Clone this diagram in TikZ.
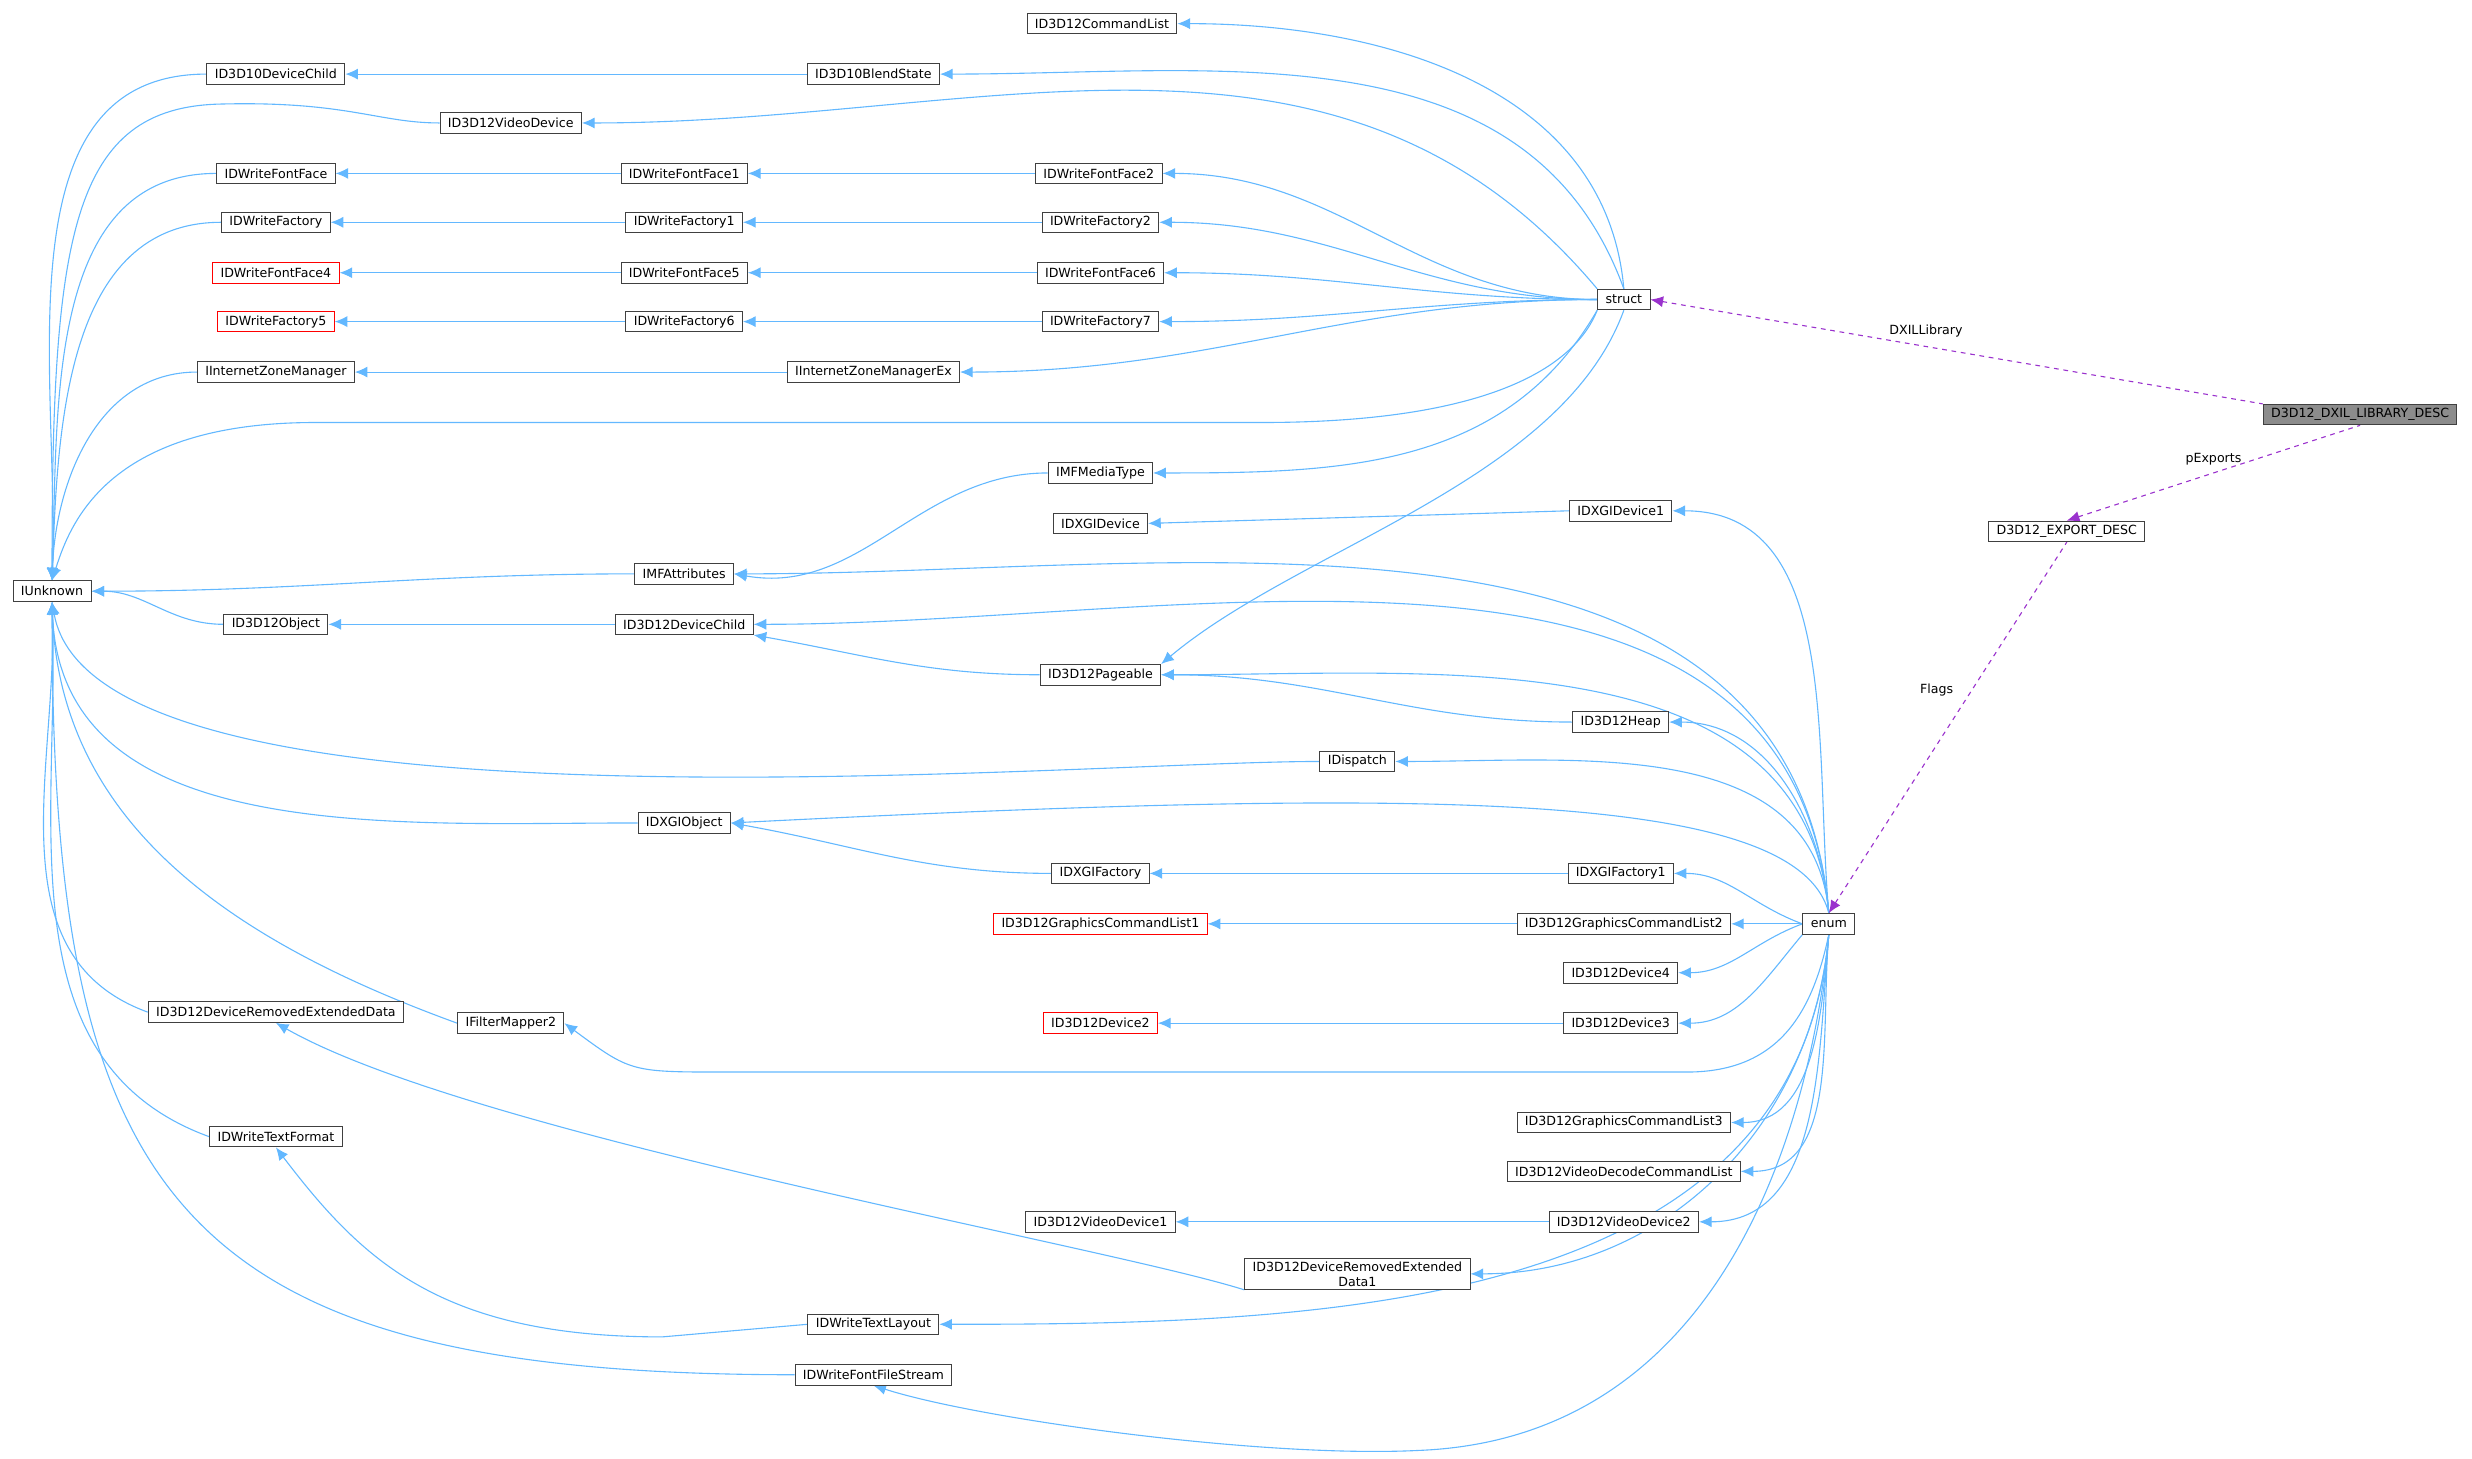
\documentclass[tikz,border=0pt]{standalone}
\usepackage{fontspec}
\setmainfont{DejaVu Sans}
\usetikzlibrary{arrows.meta,backgrounds}
\definecolor{eb}{HTML}{63B8FF}
\definecolor{pu}{HTML}{9A32CD}
\begin{document}
\begin{tikzpicture}[x=1pt,y=1pt,
 n/.style={draw=black!75,fill=white,line width=0.6pt,inner xsep=5pt,inner ysep=2pt,minimum height=13pt,font=\fontsize{8}{9.5}\selectfont,align=center},
 r/.style={n,draw=red},
 g/.style={n,fill=black!45},
 inh/.style={eb,line width=0.7pt,{Latex[length=8pt,width=7pt]}-},
 use/.style={pu,line width=0.7pt,dashed,{Latex[length=8pt,width=7pt]}-},
 lb/.style={font=\fontsize{8}{9.5}\selectfont,text=black}]
\useasboundingbox (0,0) rectangle (1568,-925);
\node[n] (cl) at (699,-15) {ID3D12CommandList};
\node[n] (dc10) at (175,-47) {ID3D10DeviceChild};
\node[n] (bs) at (554,-47) {ID3D10BlendState};
\node[n] (vd) at (324,-78) {ID3D12VideoDevice};
\node[n] (ff) at (175,-110) {IDWriteFontFace};
\node[n] (ff1) at (434,-110) {IDWriteFontFace1};
\node[n] (ff2) at (697,-110) {IDWriteFontFace2};
\node[n] (fa) at (175,-141) {IDWriteFactory};
\node[n] (fa1) at (434,-141) {IDWriteFactory1};
\node[n] (fa2) at (698,-141) {IDWriteFactory2};
\node[r] (ff4) at (175,-173) {IDWriteFontFace4};
\node[n] (ff5) at (434,-173) {IDWriteFontFace5};
\node[n] (ff6) at (698,-173) {IDWriteFontFace6};
\node[r] (fa5) at (175,-204) {IDWriteFactory5};
\node[n] (fa6) at (434,-204) {IDWriteFactory6};
\node[n] (fa7) at (698,-204) {IDWriteFactory7};
\node[n] (izm) at (175,-236) {IInternetZoneManager};
\node[n] (izx) at (554,-236) {IInternetZoneManagerEx};
\node[n] (st) at (1030,-190) {struct};
\node[g] (dx) at (1497,-263) {D3D12\_DXIL\_LIBRARY\_DESC};
\node[n] (ex) at (1311,-337) {D3D12\_EXPORT\_DESC};
\node[n] (mt) at (698,-300) {IMFMediaType};
\node[n] (dg) at (698,-332) {IDXGIDevice};
\node[n] (dg1) at (1028,-324) {IDXGIDevice1};
\node[n] (iu) at (33,-375) {IUnknown};
\node[n] (ma) at (434,-364) {IMFAttributes};
\node[n] (ob) at (175,-396) {ID3D12Object};
\node[n] (dch) at (434,-396) {ID3D12DeviceChild};
\node[n] (pg) at (698,-428) {ID3D12Pageable};
\node[n] (hp) at (1028,-458) {ID3D12Heap};
\node[n] (di) at (861,-483) {IDispatch};
\node[n] (xo) at (434,-522) {IDXGIObject};
\node[n] (xf) at (698,-554) {IDXGIFactory};
\node[n] (xf1) at (1028,-554) {IDXGIFactory1};
\node[r] (gc1) at (698,-586) {ID3D12GraphicsCommandList1};
\node[n] (gc2) at (1030,-586) {ID3D12GraphicsCommandList2};
\node[n] (en) at (1160,-586) {enum};
\node[n] (d4) at (1028,-617) {ID3D12Device4};
\node[n] (dred) at (175,-642) {ID3D12DeviceRemovedExtendedData};
\node[n] (fm) at (324,-649) {IFilterMapper2};
\node[r] (d2) at (698,-649) {ID3D12Device2};
\node[n] (d3) at (1028,-649) {ID3D12Device3};
\node[n] (gc3) at (1030,-712) {ID3D12GraphicsCommandList3};
\node[n] (vdc) at (1030,-743) {ID3D12VideoDecodeCommandList};
\node[n] (tf) at (175,-721) {IDWriteTextFormat};
\node[n] (vd1) at (698,-775) {ID3D12VideoDevice1};
\node[n] (vd2) at (1030,-775) {ID3D12VideoDevice2};
\node[n] (dred1) at (861,-808) {ID3D12DeviceRemovedExtended\\Data1};
\node[n] (tl) at (554,-840) {IDWriteTextLayout};
\node[n] (fs) at (554,-872) {IDWriteFontFileStream};
\begin{scope}[on background layer]
% to IUnknown
\foreach \c in {dc10,ff,fa,izm}
  \draw[inh] (iu.north) to[out=88,in=180] (\c.west);
\draw[inh] (iu.north) .. controls (33,-150) and (45,-68) .. (140,-66) .. controls (220,-64) and (240,-78) .. (vd.west);
\draw[inh] (iu.north) .. controls (45,-330) and (70,-268) .. (200,-268) -- (800,-268) .. controls (950,-268) and (1000,-230) .. (st.south west);
\draw[inh] (iu.east) to[out=0,in=180] (ma.west);
\draw[inh] (iu.east) to[out=0,in=180] (ob.west);
\draw[inh] (iu.south) to[out=-80,in=180,looseness=0.5] (di.west);
\draw[inh] (iu.south) to[out=-88,in=180] (xo.west);
\draw[inh] (iu.south) to[out=-88,in=160] (fm.west);
\draw[inh] (iu.south) to[out=-88,in=160] (dred.west);
\draw[inh] (iu.south) to[out=-88,in=160] (tf.west);
\draw[inh] (iu.south) .. controls (33,-760) and (110,-872) .. (fs.west);
% chains
\draw[inh] (dc10.east) -- (bs.west);
\draw[inh] (ff.east) -- (ff1.west);
\draw[inh] (ff1.east) -- (ff2.west);
\draw[inh] (fa.east) -- (fa1.west);
\draw[inh] (fa1.east) -- (fa2.west);
\draw[inh] (ff4.east) -- (ff5.west);
\draw[inh] (ff5.east) -- (ff6.west);
\draw[inh] (fa5.east) -- (fa6.west);
\draw[inh] (fa6.east) -- (fa7.west);
\draw[inh] (izm.east) -- (izx.west);
% to struct
\draw[inh] (cl.east) to[out=0,in=95] (st.north);
\draw[inh] (bs.east) to[out=0,in=110] (st.north);
\draw[inh] (vd.east) to[out=0,in=130] (st.north west);
\foreach \c in {ff2,fa2,ff6,fa7,izx}
  \draw[inh] (\c.east) to[out=0,in=180] (st.west);
\draw[inh] (mt.east) to[out=0,in=240] (st.south west);
\draw[inh] (pg.north east) to[out=40,in=250,looseness=0.8] (st.south);
% middle
\draw[inh] (ma.east) to[out=-10,in=180] (mt.west);
\draw[inh] (dg.east) -- (dg1.west);
\draw[inh] (ob.east) -- (dch.west);
\draw[inh] (dch.south east) to[out=-10,in=180] (pg.west);
\draw[inh] (pg.east) to[out=0,in=180] (hp.west);
\draw[inh] (xo.east) to[out=-10,in=180] (xf.west);
\draw[inh] (xf.east) -- (xf1.west);
\draw[inh] (gc1.east) -- (gc2.west);
\draw[inh] (d2.east) -- (d3.west);
\draw[inh] (vd1.east) -- (vd2.west);
\draw[inh] (dred.south) .. controls (300,-720) and (700,-790) .. (dred1.south west);
\draw[inh] (tf.south) .. controls (230,-800) and (280,-848) .. (420,-848) -- (tl.west);
% to enum
\foreach \c in {dg1,ma,dch,pg,hp,di}
  \draw[inh] (\c.east) to[out=0,in=95] (en.north);
\draw[inh] (xo.east) .. controls (900,-500) and (1140,-500) .. (en.north);
\draw[inh] (xf1.east) to[out=0,in=160] (en.west);
\draw[inh] (gc2.east) -- (en.west);
\draw[inh] (d4.east) to[out=0,in=200] (en.west);
\draw[inh] (d3.east) to[out=0,in=230] (en.south west);
\draw[inh] (fm.east) .. controls (400,-680) .. (460,-680) -- (1070,-680) .. controls (1130,-680) and (1150,-640) .. (en.south);
\foreach \c in {gc3,vdc,vd2,dred1,tl}
  \draw[inh] (\c.east) to[out=0,in=265] (en.south);
\draw[inh] (fs.south) .. controls (620,-900) and (800,-925) .. (900,-920) .. controls (1100,-912) and (1150,-700) .. (en.south);
% purple
\draw[use] (st.east) -- node[lb,above=2pt,pos=0.45]{DXILLibrary} (dx.north west);
\draw[use] (ex.north) -- node[lb,above=1pt]{pExports} (dx.south);
\draw[use] (en.north) -- node[lb,left=8pt,pos=0.6]{Flags} (ex.south);
\end{scope}
\end{tikzpicture}
\end{document}
